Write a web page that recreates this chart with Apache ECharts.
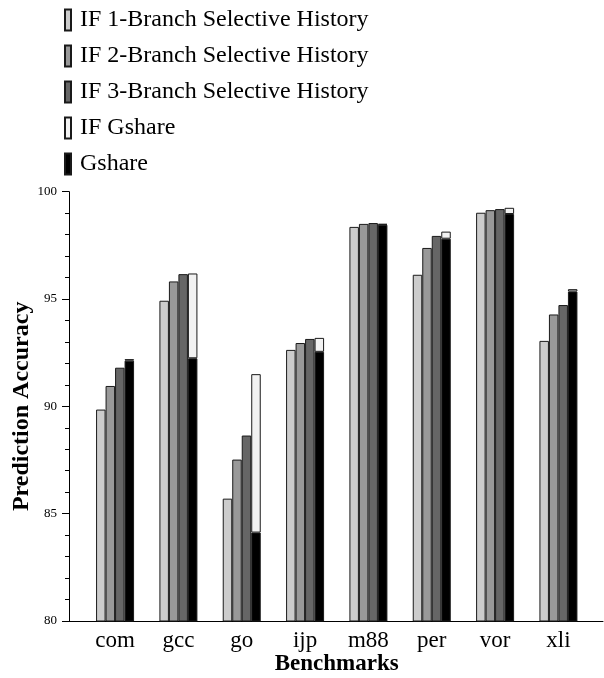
<!DOCTYPE html>
<html>
<head>
<meta charset="utf-8">
<script src="https://cdn.jsdelivr.net/npm/echarts@6/dist/echarts.min.js"></script>
<style>
html,body{margin:0;padding:0;background:#fff;}
#chart{width:604px;height:678px;}
</style>
</head>
<body>
<div id="chart"></div>
<script>
const categories = ['com', 'gcc', 'go', 'ijp', 'm88', 'per', 'vor', 'xli'];
const if1Branch = [89.85, 94.92, 85.70, 92.63, 98.36, 96.13, 99.02, 93.05];
const if2Branch = [90.95, 95.82, 87.52, 92.95, 98.50, 97.38, 99.14, 94.28];
const if3Branch = [91.80, 96.16, 88.64, 93.14, 98.54, 97.94, 99.19, 94.72];
const ifGshare  = [92.20, 96.19, 91.50, 93.19, 98.50, 98.14, 99.25, 95.46];
const gshare    = [92.13, 92.24, 84.12, 92.54, 98.46, 97.81, 98.96, 95.35];
const yTicks = [80, 85, 90, 95, 100];

const FONT = 'Liberation Serif';
const border = { borderColor: '#1a1a1a', borderWidth: 1 };

const chart = echarts.init(document.getElementById('chart'), null, { renderer: 'canvas' });
chart.setOption({
  animation: false,
  backgroundColor: '#fff',
  textStyle: { fontFamily: FONT },
  legend: {
    orient: 'vertical',
    left: 64,
    top: 8,
    padding: 0,
    itemWidth: 6,
    itemHeight: 21,
    itemGap: 12,
    icon: 'rect',
    selectedMode: false,
    data: ['IF 1-Branch Selective History', 'IF 2-Branch Selective History', 'IF 3-Branch Selective History', 'IF Gshare', 'Gshare'],
    textStyle: { fontFamily: FONT, fontSize: 24, color: '#000', padding: [0, 0, 0, 4] }
  },
  grid: [
    { left: 83.4, right: 13.9, top: 191.7, bottom: 57, containLabel: false, outerBoundsMode: 'none' },
    { left: 69, right: 1, top: 191.7, bottom: 57, containLabel: false, outerBoundsMode: 'none' }
  ],
  xAxis: [
    {
      type: 'category',
      gridIndex: 0,
      data: categories,
      axisLine: { show: false },
      axisTick: { show: false },
      splitLine: { show: false },
      axisLabel: { fontFamily: FONT, fontSize: 23, color: '#000', margin: 8, interval: 0 },
      name: 'Benchmarks',
      nameLocation: 'middle',
      nameGap: 32,
      nameMoveOverlap: false,
      nameTextStyle: { fontFamily: FONT, fontSize: 23, fontWeight: 'bold', color: '#000' }
    },
    {
      type: 'value',
      gridIndex: 1,
      min: 0,
      max: 1,
      axisLine: { show: true, onZero: false, lineStyle: { color: '#000', width: 1 } },
      axisTick: { show: false },
      axisLabel: { show: false },
      splitLine: { show: false }
    }
  ],
  yAxis: [
    {
      type: 'value',
      gridIndex: 0,
      offset: 14.4,
      min: yTicks[0],
      max: yTicks[yTicks.length - 1],
      interval: 5,
      splitLine: { show: false },
      axisLine: { show: true, onZero: false, lineStyle: { color: '#000', width: 1 } },
      axisTick: { show: true, inside: false, length: 7, lineStyle: { color: '#000' } },
      minorTick: { show: true, splitNumber: 5, length: 4, lineStyle: { color: '#000' } },
      minorSplitLine: { show: false },
      axisLabel: { fontFamily: FONT, fontSize: 13, color: '#000', margin: 12 },
      name: 'Prediction Accuracy',
      nameLocation: 'middle',
      nameGap: 35,
      nameMoveOverlap: false,
      nameTextStyle: { fontFamily: FONT, fontSize: 24, fontWeight: 'bold', color: '#000' }
    },
    {
      type: 'value',
      gridIndex: 1,
      min: 0,
      max: 1,
      show: false
    }
  ],
  series: [
    { name: 'IF 1-Branch Selective History', type: 'bar', barWidth: 9.5, barGap: 0,
      itemStyle: Object.assign({ color: '#cccccc' }, border), data: if1Branch },
    { name: 'IF 2-Branch Selective History', type: 'bar', barWidth: 9.5, barGap: 0,
      itemStyle: Object.assign({ color: '#999999' }, border), data: if2Branch },
    { name: 'IF 3-Branch Selective History', type: 'bar', barWidth: 9.5, barGap: 0,
      itemStyle: Object.assign({ color: '#666666' }, border), data: if3Branch },
    { name: 'Gshare', type: 'bar', stack: 'gs', barWidth: 9.5, barGap: 0,
      itemStyle: Object.assign({ color: '#000000' }, border), data: gshare },
    { name: 'IF Gshare', type: 'bar', stack: 'gs', barWidth: 9.5, barGap: 0,
      itemStyle: Object.assign({ color: '#f2f2f2' }, border),
      data: ifGshare.map((v, i) => Math.max(0, +(v - gshare[i]).toFixed(3))) }
  ]
});
</script>
</body>
</html>
